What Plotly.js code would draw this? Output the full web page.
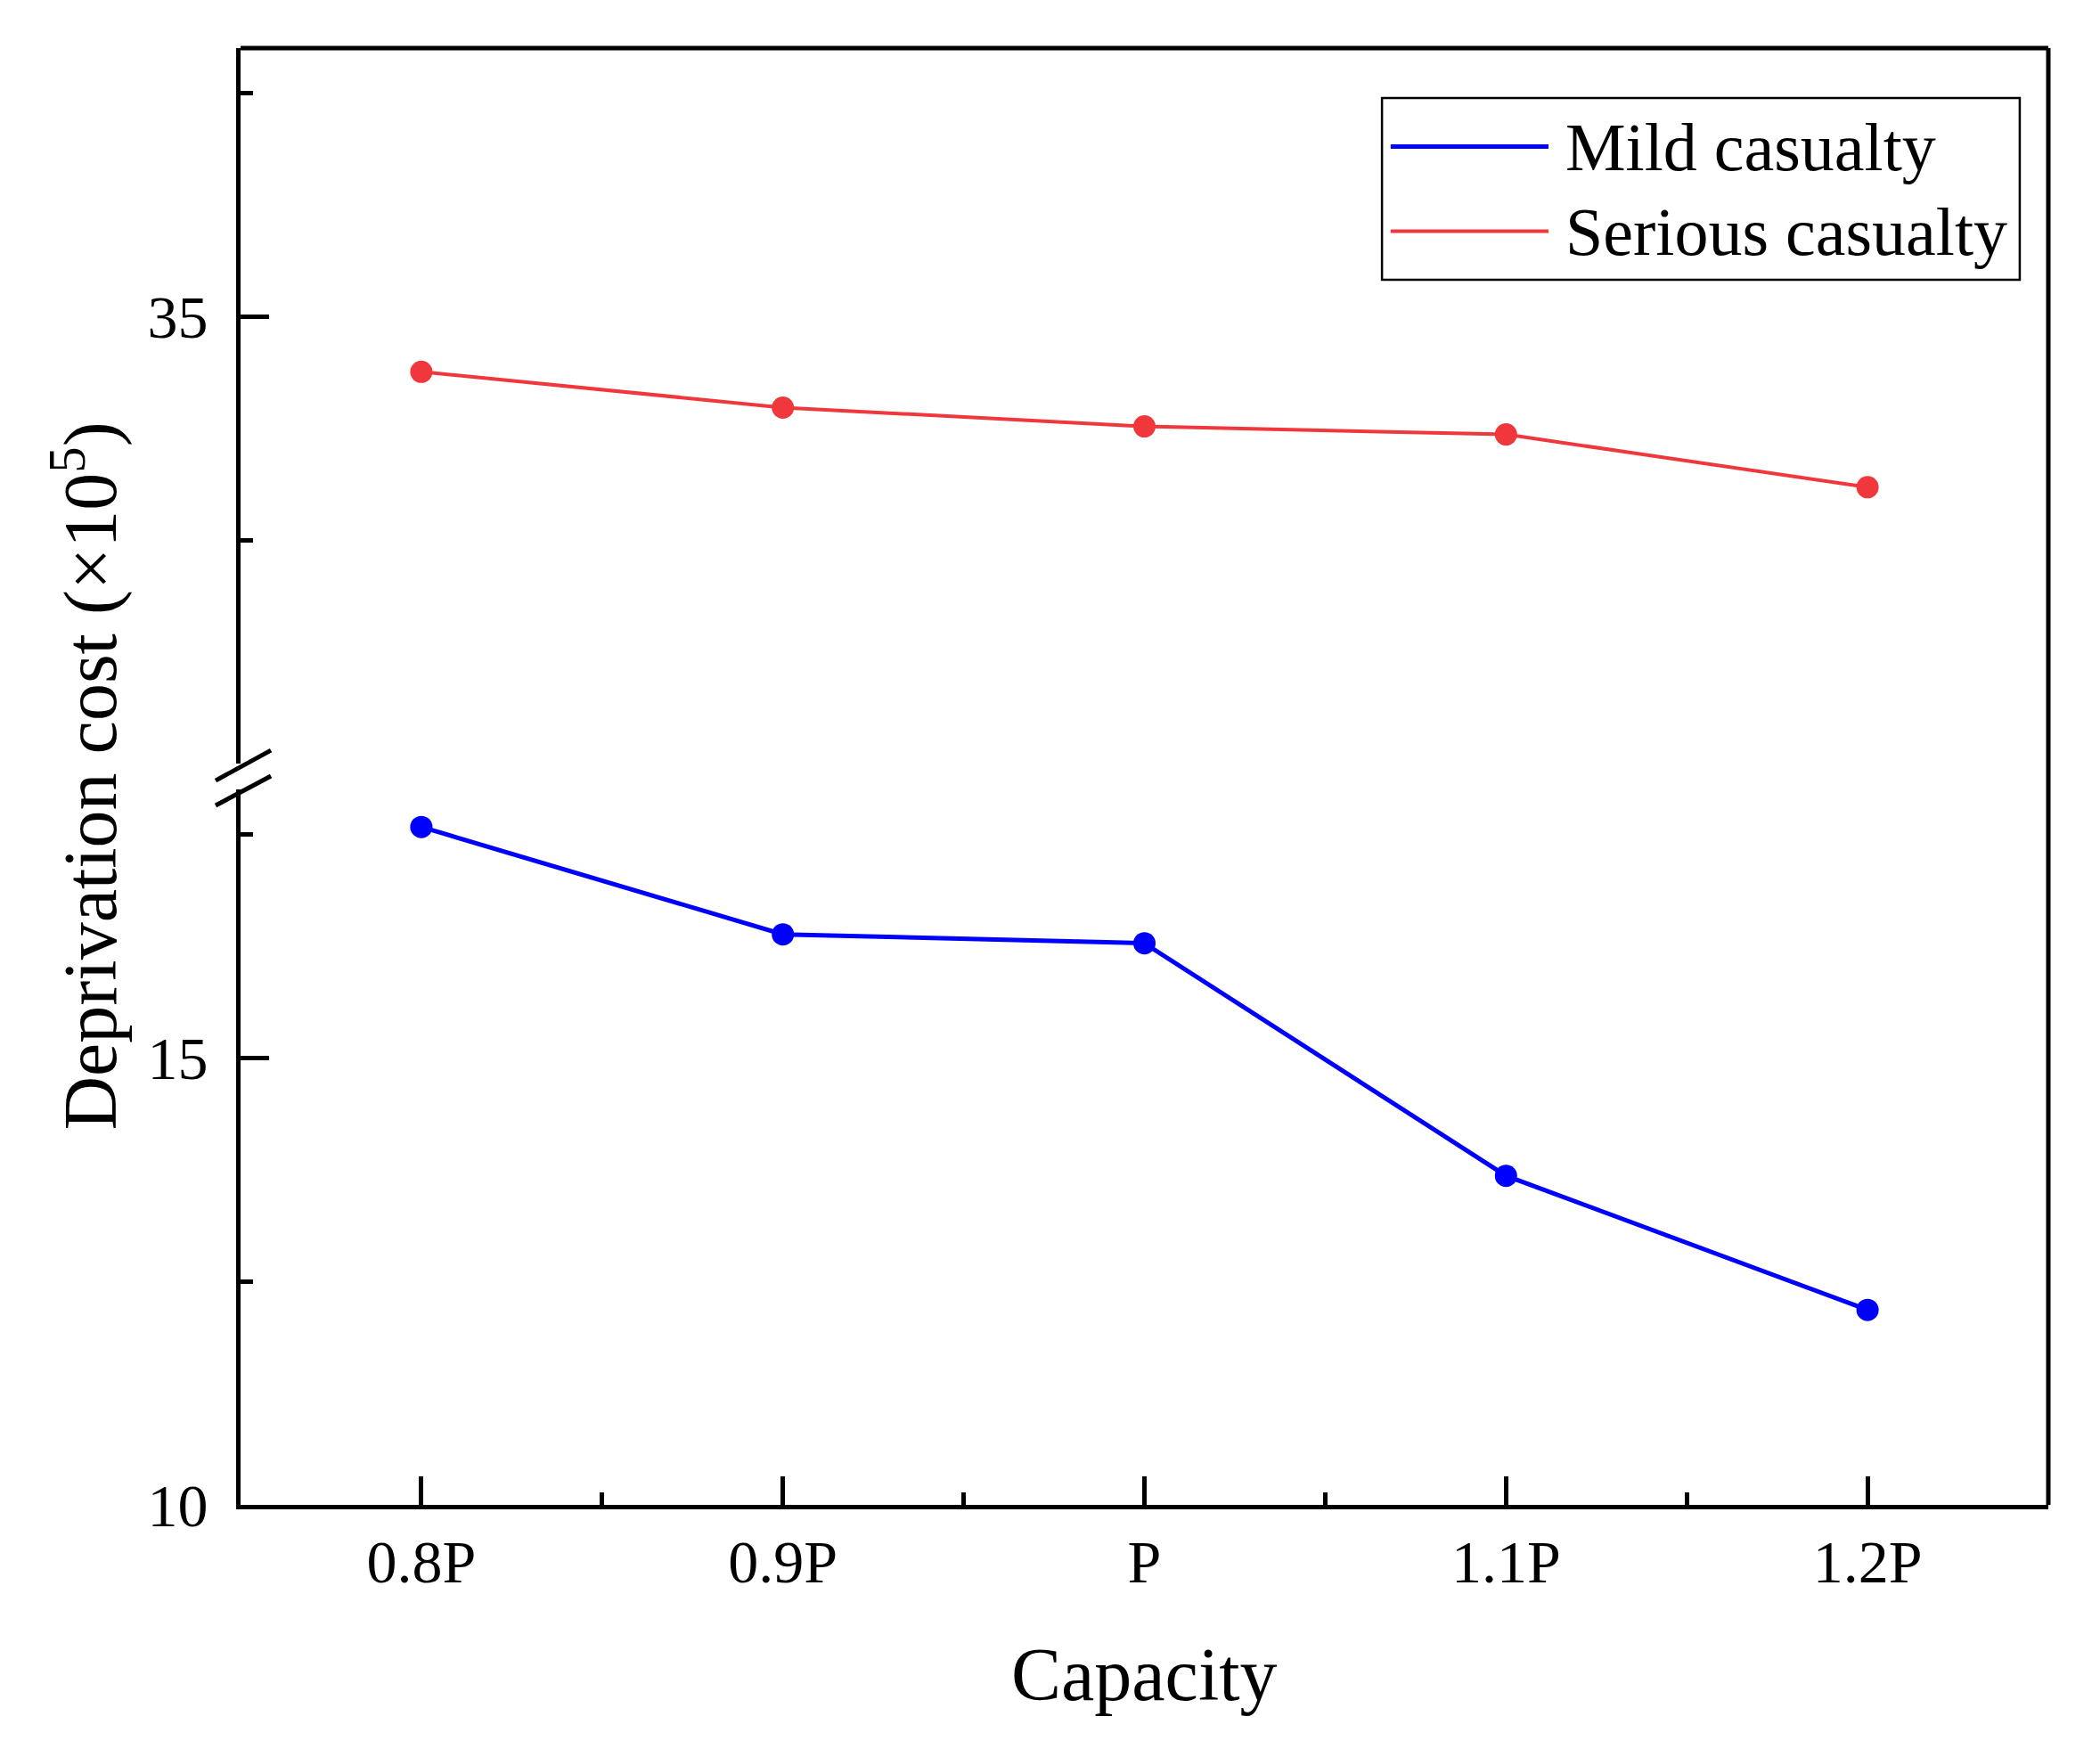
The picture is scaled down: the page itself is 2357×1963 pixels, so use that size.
<!DOCTYPE html>
<html>
<head>
<meta charset="utf-8">
<script src="https://cdn.plot.ly/plotly-3.0.1.min.js"></script>
<style>
  html, body { margin: 0; padding: 0; background: #fff; }
  #chart { width: 2357px; height: 1963px; }
</style>
</head>
<body>
<div id="chart"></div>
<script>
// capacity levels and their labels
var capacity = [0.8, 0.9, 1.0, 1.1, 1.2];
var capacityLabels = ['0.8P', '0.9P', 'P', '1.1P', '1.2P'];

// deprivation cost (x10^5)
var mildCost = [17.58, 16.38, 16.28, 13.68, 12.18];
var seriousCost = [34.38, 33.98, 33.77, 33.68, 33.09];

var seriesNames = ['Mild casualty', 'Serious casualty'];
var seriesColors = ['#0000ff', '#f0373c'];

var serif = '"Liberation Serif", "Times New Roman", serif';

var data = [
    {
    x: capacity,
    y: mildCost,
    name: seriesNames[0],
    type: 'scatter',
    mode: 'lines+markers',
    xaxis: 'x',
    yaxis: 'y',
    line: { color: seriesColors[0], width: 5 },
    marker: { color: seriesColors[0], size: 25 },
    showlegend: false
    },
    {
    x: capacity,
    y: seriousCost,
    name: seriesNames[1],
    type: 'scatter',
    mode: 'lines+markers',
    xaxis: 'x',
    yaxis: 'y2',
    line: { color: seriesColors[1], width: 4 },
    marker: { color: seriesColors[1], size: 25 },
    showlegend: false
    }
];

var lowerTop = 0.4911;
var upperBottom = 0.5089;

var axisCommon = {
    showline: true,
    linecolor: 'black',
    linewidth: 5,
    showgrid: false,
    zeroline: false,
    ticks: 'inside',
    ticklen: 32,
    tickwidth: 5,
    tickcolor: 'black',
    tickfont: { family: serif, size: 68, color: 'black' }
};

var layout = {
    width: 2357,
    height: 1963,
    paper_bgcolor: 'white',
    plot_bgcolor: 'white',
    showlegend: false,
    margin: { l: 270, r: 58, t: 54, b: 274 },
    xaxis: Object.assign({}, axisCommon, {
        range: [0.75, 1.25],
        tickmode: 'array',
        tickvals: capacity,
        ticktext: capacityLabels,
        ticklabelstandoff: 0,
        minor: { tickmode: 'array', tickvals: [0.85, 0.95, 1.05, 1.15], ticks: 'inside', ticklen: 14, tickwidth: 5, tickcolor: 'black' },
        anchor: 'y'
    }),
    yaxis: Object.assign({}, axisCommon, {
        domain: [0, lowerTop],
        range: [10, 18],
        tickmode: 'array',
        tickvals: [10, 15],
        ticktext: ['10', '15'],
        ticklabelstandoff: 18,
        minor: { tickmode: 'array', tickvals: [12.5, 17.5], ticks: 'inside', ticklen: 14, tickwidth: 5, tickcolor: 'black' },
        anchor: 'x'
    }),
    yaxis2: Object.assign({}, axisCommon, {
        domain: [upperBottom, 1],
        range: [30, 38],
        tickmode: 'array',
        tickvals: [35],
        ticktext: ['35'],
        ticklabelstandoff: 18,
        minor: { tickmode: 'array', tickvals: [32.5, 37.5], ticks: 'inside', ticklen: 14, tickwidth: 5, tickcolor: 'black' },
        anchor: 'x'
    }),
    shapes: [
        // frame: top and right
        { type: 'line', xref: 'paper', yref: 'paper', x0: 0, x1: 1, y0: 1, y1: 1, line: { color: 'black', width: 5 } },
        { type: 'line', xref: 'paper', yref: 'paper', x0: 1, x1: 1, y0: 0, y1: 1, line: { color: 'black', width: 5 } },
        // axis break marks
        { type: 'line', xref: 'paper', yref: 'paper', x0: -0.0138, x1: 0.0168, y0: 0.4972, y1: 0.5180, line: { color: 'black', width: 5 } },
        { type: 'line', xref: 'paper', yref: 'paper', x0: -0.0138, x1: 0.0168, y0: 0.4801, y1: 0.5003, line: { color: 'black', width: 5 } },
        // legend box
        { type: 'rect', xref: 'paper', yref: 'paper', x0: 0.6314, x1: 0.9842, y0: 0.841, y1: 0.9657, line: { color: 'black', width: 2.5 }, fillcolor: 'white' },
        { type: 'line', xref: 'paper', yref: 'paper', x0: 0.6362, x1: 0.7235, y0: 0.9324, y1: 0.9324, line: { color: seriesColors[0], width: 5 } },
        { type: 'line', xref: 'paper', yref: 'paper', x0: 0.6362, x1: 0.7235, y0: 0.8743, y1: 0.8743, line: { color: seriesColors[1], width: 4 } }
    ],
    annotations: [
        {
        text: seriesNames[0], xref: 'paper', yref: 'paper', x: 0.7319, y: 0.9324,
        xanchor: 'left', yanchor: 'middle', showarrow: false,
        font: { family: serif, size: 76, color: 'black' }
        },
        {
        text: seriesNames[1], xref: 'paper', yref: 'paper', x: 0.7319, y: 0.8743,
        xanchor: 'left', yanchor: 'middle', showarrow: false,
        font: { family: serif, size: 76, color: 'black' }
        },
        {
        text: 'Capacity', xref: 'paper', yref: 'paper', x: 0.5, y: -0.1165,
        xanchor: 'center', yanchor: 'middle', showarrow: false,
        font: { family: serif, size: 84, color: 'black' }
        },
        {
        text: 'Deprivation cost (×10<sup>5</sup>)', xref: 'paper', yref: 'paper', x: -0.0862, y: 0.5,
        xanchor: 'center', yanchor: 'middle', textangle: -90, showarrow: false,
        font: { family: serif, size: 84, color: 'black' }
        }
    ]
};

//Create the chart
Plotly.newPlot('chart', data, layout, { displayModeBar: false, staticPlot: true });
</script>
</body>
</html>
